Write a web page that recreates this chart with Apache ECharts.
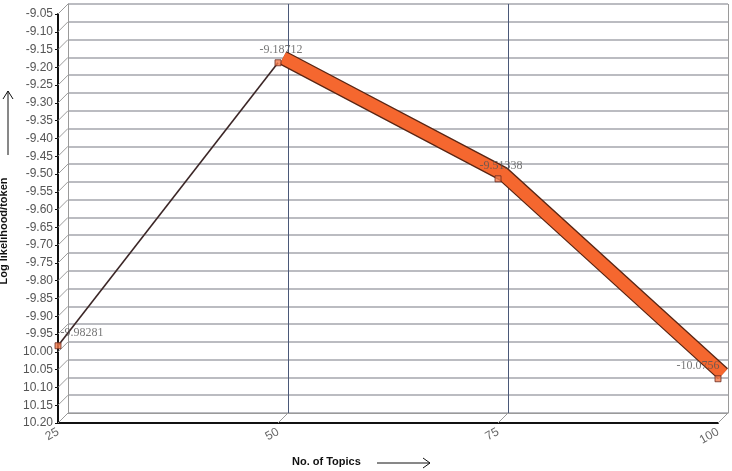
<!DOCTYPE html>
<html>
<head>
<meta charset="utf-8">
<script src="https://cdn.jsdelivr.net/npm/echarts@6/dist/echarts.min.js"></script>
<style>
  html, body { margin: 0; padding: 0; background: #fff; }
  #chart { width: 732px; height: 471px; }
</style>
</head>
<body>
<div id="chart"></div>
<script>
// data
var topics = [25, 50, 75, 100];
var logLik = [-9.98281, -9.18712, -9.51338, -10.0756];
var xTicks = [25, 50, 75, 100];
var yTicks = [-9.05, -9.10, -9.15, -9.20, -9.25, -9.30, -9.35, -9.40, -9.45, -9.50,
  -9.55, -9.60, -9.65, -9.70, -9.75, -9.80, -9.85, -9.90, -9.95, -10.00,
  -10.05, -10.10, -10.15, -10.20];

var DEPTH = 10; // 3d offset of the back wall
var chart = echarts.init(document.getElementById('chart'));

var pts = topics.map(function (t, i) { return [t, logLik[i]]; });
var firstSeg = pts.slice(0, 2);
var ribbon = pts.slice(1);

var gridBox = function (dx) {
  return { left: 58 + dx, top: 14 - dx, width: 660, height: 409, containLabel: false };
};

var xBase = { type: 'value', min: 25, max: 100, interval: 25 };
var yBase = { type: 'value', min: -10.2, max: -9.05, interval: 0.05 };

var option = {
  animation: false,
  grid: [gridBox(DEPTH), gridBox(0), gridBox(DEPTH / 2)],
  xAxis: [
    Object.assign({}, xBase, {
      gridIndex: 0,
      axisLine: { show: true, lineStyle: { color: '#9a9a9a', width: 1 } },
      axisTick: { show: false }, axisLabel: { show: false },
      splitLine: { show: true, lineStyle: { color: ['#9a9a9a', '#4a5878', '#4a5878', '#9a9a9a'], width: 1 } }
    }),
    Object.assign({}, xBase, {
      gridIndex: 1,
      axisLine: { show: true, onZero: false, lineStyle: { color: '#111', width: 2 } },
      axisTick: { show: false },
      splitLine: { show: false },
      axisLabel: {
        rotate: 30, margin: 8, color: '#666',
        fontFamily: 'Liberation Sans', fontSize: 12
      }
    }),
    Object.assign({}, xBase, { gridIndex: 2, show: false })
  ],
  yAxis: [
    Object.assign({}, yBase, {
      gridIndex: 0,
      axisLine: { show: true, lineStyle: { color: '#9a9a9a', width: 1 } },
      axisTick: { show: false }, axisLabel: { show: false },
      splitLine: { show: true, lineStyle: { color: '#a4a6ad', width: 1.5 } }
    }),
    Object.assign({}, yBase, {
      gridIndex: 1,
      axisLine: { show: true, onZero: false, lineStyle: { color: '#111', width: 2 } },
      axisTick: { show: true, length: 3, lineStyle: { color: '#111' } },
      splitLine: { show: false },
      axisLabel: {
        margin: 5, color: '#555',
        fontFamily: 'Liberation Sans', fontSize: 12,
        formatter: function (v) {
          var s = v.toFixed(2);
          return v <= -9.999 ? s.slice(1) : s;
        }
      }
    }),
    Object.assign({}, yBase, { gridIndex: 2, show: false })
  ],
  series: [
    {
      // side wall and floor diagonals
      type: 'custom',
      xAxisIndex: 1, yAxisIndex: 1,
      data: [0],
      silent: true,
      z: 1,
      renderItem: function (params, api) {
        var kids = [];
        yTicks.forEach(function (v) {
          var p = api.coord([xTicks[0], v]);
          kids.push({ type: 'line', shape: { x1: p[0], y1: p[1], x2: p[0] + DEPTH, y2: p[1] - DEPTH },
            style: { stroke: '#9a9a9a', lineWidth: 1 } });
        });
        xTicks.forEach(function (t) {
          var p = api.coord([t, yTicks[yTicks.length - 1]]);
          kids.push({ type: 'line', shape: { x1: p[0], y1: p[1], x2: p[0] + DEPTH, y2: p[1] - DEPTH },
            style: { stroke: '#9a9a9a', lineWidth: 1 } });
        });
        return { type: 'group', children: kids };
      }
    },
    {
      type: 'line',
      xAxisIndex: 1, yAxisIndex: 1,
      data: firstSeg,
      symbol: 'none',
      lineStyle: { color: '#3b2626', width: 1.6 },
      z: 3
    },
    {
      type: 'line',
      xAxisIndex: 2, yAxisIndex: 2,
      data: ribbon,
      symbol: 'none',
      lineStyle: { color: '#5a2614', width: 15, cap: 'butt', join: 'miter' },
      z: 3
    },
    {
      type: 'line',
      xAxisIndex: 2, yAxisIndex: 2,
      data: ribbon,
      symbol: 'none',
      lineStyle: { color: '#f5672f', width: 12.5, cap: 'butt', join: 'miter' },
      z: 4
    },
    {
      type: 'scatter',
      xAxisIndex: 1, yAxisIndex: 1,
      data: pts,
      symbol: 'rect',
      symbolSize: 6,
      itemStyle: { color: '#f2794a', borderColor: '#6a2a20', borderWidth: 1 },
      z: 5,
      label: {
        show: true,
        position: 'top',
        distance: 3,
        color: '#555',
        fontFamily: 'Liberation Serif',
        fontSize: 12,
        formatter: function (p) { return String(p.value[1]); },
        align: 'center'
      },
      labelLayout: function (p) {
        if (p.dataIndex === 0) return { dx: 24, dy: 0 };
        if (p.dataIndex === topics.length - 1) return { dx: -20, dy: 0 };
        return { dx: 3, dy: 0 };
      }
    }
  ],
  graphic: [
    {
      type: 'text', left: 292, top: 456,
      style: { text: 'No. of Topics', fill: '#111', font: 'bold 11px "Liberation Sans"' }
    },
    {
      type: 'polyline',
      shape: { points: [[377, 463], [430, 463]] },
      style: { stroke: '#111', lineWidth: 1 }
    },
    {
      type: 'polyline',
      shape: { points: [[423, 458], [430, 463], [423, 468]] },
      style: { stroke: '#111', fill: null, lineWidth: 1 }
    },
    {
      type: 'text', x: 4, y: 231, rotation: Math.PI / 2,
      style: {
        text: 'Log likelihood/token', fill: '#111', font: 'bold 11px "Liberation Sans"',
        align: 'center', verticalAlign: 'middle'
      }
    },
    {
      type: 'polyline',
      shape: { points: [[8, 155], [8, 91]] },
      style: { stroke: '#111', lineWidth: 1 }
    },
    {
      type: 'polyline',
      shape: { points: [[3, 99], [8, 91], [13, 99]] },
      style: { stroke: '#111', fill: null, lineWidth: 1 }
    }
  ]
};

chart.setOption(option);
</script>
</body>
</html>
